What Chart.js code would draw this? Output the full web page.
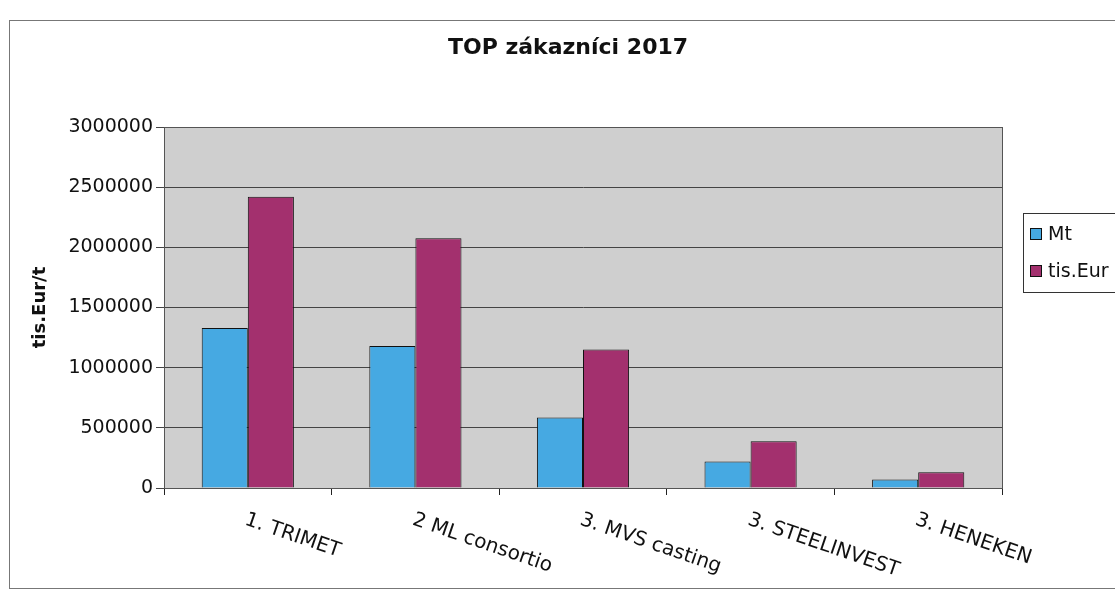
<!DOCTYPE html>
<html>
<head>
<meta charset="utf-8">
<script src="https://cdn.jsdelivr.net/npm/chart.js@4/dist/chart.umd.min.js"></script>
<style>
  html, body { margin: 0; padding: 0; background: #ffffff; }
  #wrap { width: 1115px; height: 597px; position: relative; }
</style>
</head>
<body>
<div id="wrap"><canvas id="c" width="1115" height="597"></canvas></div>
<script>
const chartTitle = 'TOP zákazníci 2017';
const yAxisTitle = 'tis.Eur/t';
const categories = ['1. TRIMET', '2 ML consortio', '3. MVS casting', '3. STEELINVEST', '3. HENEKEN'];
const seriesNames = ['Mt', 'tis.Eur'];
const mtValues = [1330000, 1180000, 585000, 220000, 70000];
const eurValues = [2420000, 2075000, 1150000, 388000, 130000];
const yTicks = [0, 500000, 1000000, 1500000, 2000000, 2500000, 3000000];

const colors = ['#46a9e2', '#a3306e'];
const FONT = 'DejaVu Sans';

const decorPlugin = {
  id: 'decor',
  beforeDraw(chart) {
    const { ctx, chartArea: a } = chart;
    ctx.save();
    ctx.fillStyle = '#ffffff';
    ctx.fillRect(0, 0, chart.width, chart.height);
    // outer frame
    ctx.strokeStyle = '#777777';
    ctx.lineWidth = 1;
    ctx.strokeRect(9.5, 20.5, 1120, 568);
    // plot background
    ctx.fillStyle = '#cfcfcf';
    ctx.fillRect(a.left, a.top, a.right - a.left, a.bottom - a.top);
    ctx.restore();
  },
  afterDraw(chart) {
    const { ctx, chartArea: a } = chart;
    const xs = chart.scales.x;
    ctx.save();
    // plot border
    ctx.strokeStyle = '#555555';
    ctx.lineWidth = 1;
    ctx.strokeRect(a.left + 0.5, a.top + 0.5, a.right - a.left, a.bottom - a.top);
    // title
    ctx.fillStyle = '#111111';
    ctx.font = 'bold 22px "' + FONT + '"';
    ctx.textAlign = 'center';
    ctx.textBaseline = 'middle';
    ctx.fillText(chartTitle, 568, 48);
    // rotated category labels
    ctx.font = '20px "' + FONT + '"';
    ctx.textAlign = 'left';
    ctx.textBaseline = 'top';
    categories.forEach((lab, i) => {
      const px = xs.getPixelForTick(i);
      ctx.save();
      ctx.translate(px + 1, a.bottom + 22);
      ctx.rotate(19 * Math.PI / 180);
      ctx.fillText(lab, 0, 0);
      ctx.restore();
    });
    // legend
    ctx.fillStyle = '#ffffff';
    ctx.fillRect(1023, 213, 100, 79);
    ctx.strokeStyle = '#333333';
    ctx.strokeRect(1023.5, 213.5, 100, 79);
    chart.data.datasets.forEach((ds, i) => {
      const y = 234 + i * 37;
      ctx.fillStyle = ds.backgroundColor;
      ctx.fillRect(1030, y - 6, 12, 12);
      ctx.strokeStyle = '#111111';
      ctx.strokeRect(1030.5, y - 5.5, 11, 11);
      ctx.fillStyle = '#111111';
      ctx.font = '19px "' + FONT + '"';
      ctx.textBaseline = 'middle';
      ctx.fillText(ds.label, 1048, y + 1);
    });
    ctx.restore();
  }
};

new Chart(document.getElementById('c'), {
  type: 'bar',
  data: {
    labels: categories,
    datasets: [
      { label: seriesNames[0], data: mtValues, backgroundColor: colors[0], borderColor: '#111111', borderWidth: 1 },
      { label: seriesNames[1], data: eurValues, backgroundColor: colors[1], borderColor: '#111111', borderWidth: 1 }
    ]
  },
  options: {
    responsive: false,
    animation: false,
    layout: { padding: { top: 127, right: 113, bottom: 0, left: 0 } },
    datasets: { bar: { categoryPercentage: 0.55, barPercentage: 1.0 } },
    plugins: {
      legend: { display: false },
      title: { display: false },
      tooltip: { enabled: false }
    },
    scales: {
      x: {
        offset: true,
        grid: { offset: true, drawOnChartArea: false, drawTicks: true, tickLength: 7, color: '#222222' },
        border: { color: '#222222' },
        ticks: { display: false },
        afterFit(s) { s.height = 597 - 488; }
      },
      y: {
        min: 0,
        max: 3000000,
        afterBuildTicks(s) { s.ticks = yTicks.map(v => ({ value: v })); },
        grid: { color: '#444444', lineWidth: 1, tickLength: 8, drawTicks: true },
        border: { color: '#222222' },
        ticks: {
          color: '#111111',
          font: { family: FONT, size: 19 },
          padding: 3,
          callback: v => String(v)
        },
        title: {
          display: true,
          text: yAxisTitle,
          color: '#111111',
          font: { family: FONT, size: 18, weight: 'bold' },
          padding: { top: 30, bottom: 0 }
        },
        afterFit(s) { s.width = 164; }
      }
    }
  },
  plugins: [decorPlugin]
});
</script>
</body>
</html>
